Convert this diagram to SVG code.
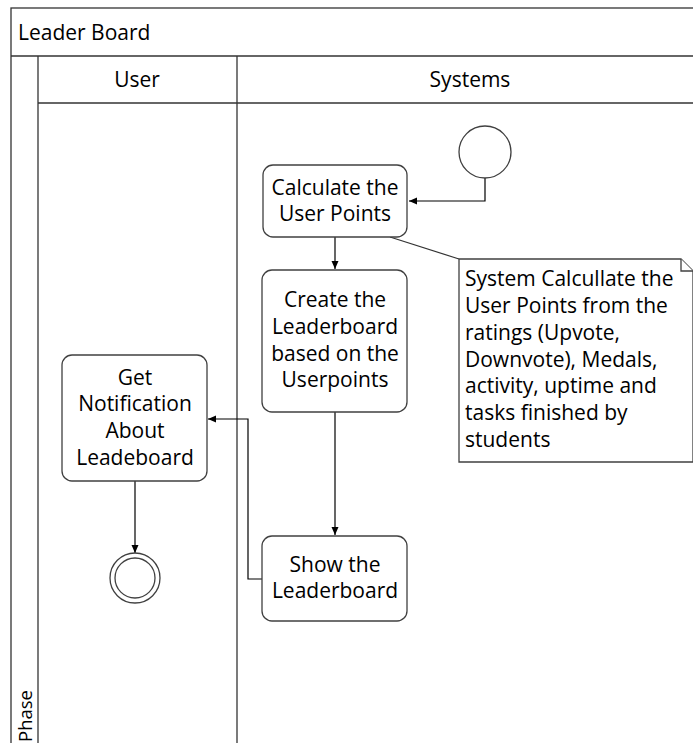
<svg xmlns="http://www.w3.org/2000/svg" width="693" height="743" viewBox="0 0 693 743">
<defs>
<marker id="arr" markerWidth="10" markerHeight="10" refX="9" refY="5" orient="auto" markerUnits="userSpaceOnUse">
<path d="M1,1.5 L9,5 L1,8.5 Z" fill="#000"/>
</marker>
<style>
.lane{fill:#fff;stroke:#333;stroke-width:1.3}
.box{fill:#fff;stroke:#404040;stroke-width:1.3}
.t{font-family:"Open Sans","Liberation Sans",sans-serif;font-size:21px;fill:#000}
.c{text-anchor:middle}
.con{fill:none;stroke:#000;stroke-width:1.2}
</style>
</defs>
<rect width="693" height="743" fill="#fff"/>
<g id="pool">
<rect class="lane" x="11" y="8" width="690" height="740"/>
<line class="lane" x1="11" y1="56" x2="693" y2="56"/>
<line class="lane" x1="38" y1="56" x2="38" y2="743"/>
<line class="lane" x1="237" y1="56" x2="237" y2="743"/>
<line class="lane" x1="38" y1="103" x2="693" y2="103"/>
<text class="t" x="18" y="40">Leader Board</text>
<text class="t c" x="137" y="87">User</text>
<text class="t c" x="470" y="87">Systems</text>
<text class="t" style="font-size:18.5px" transform="translate(32,742) rotate(-90)">Phase</text>
</g>
<g id="connectors">
<polyline class="con" points="485,178 485,201 409,201" marker-end="url(#arr)"/>
<line class="con" x1="335" y1="237" x2="335" y2="269" marker-end="url(#arr)"/>
<line class="con" x1="335" y1="412" x2="335" y2="535" marker-end="url(#arr)"/>
<polyline class="con" points="262,579 248,579 248,419 208,419" marker-end="url(#arr)"/>
<line class="con" x1="135" y1="481" x2="135" y2="553" marker-end="url(#arr)"/>
<line x1="390" y1="237" x2="459" y2="259" stroke="#333" stroke-width="1.2"/>
</g>
<g id="start">
<circle class="box" cx="485" cy="152" r="26"/>
</g>
<g id="calc">
<rect class="box" x="263" y="165" width="144" height="72" rx="10"/>
<text class="t c" x="335" y="195">Calculate the</text>
<text class="t c" x="335" y="221">User Points</text>
</g>
<g id="create">
<rect class="box" x="262" y="270" width="145" height="142" rx="10"/>
<text class="t c" x="335" y="307">Create the</text>
<text class="t c" x="335" y="334">Leaderboard</text>
<text class="t c" x="335" y="361">based on the</text>
<text class="t c" x="335" y="387">Userpoints</text>
</g>
<g id="show">
<rect class="box" x="262" y="536" width="145" height="85" rx="10"/>
<text class="t c" x="335" y="572">Show the</text>
<text class="t c" x="335" y="598">Leaderboard</text>
</g>
<g id="notify">
<rect class="box" x="62" y="355" width="145" height="126" rx="10"/>
<text class="t c" x="135" y="385">Get</text>
<text class="t c" x="135" y="411">Notification</text>
<text class="t c" x="135" y="438">About</text>
<text class="t c" x="135" y="465">Leadeboard</text>
</g>
<g id="end">
<circle class="box" cx="135" cy="578" r="25"/>
<circle class="box" cx="135" cy="578" r="20"/>
</g>
<g id="note">
<path class="box" d="M459,259 H681 L693,271 V462 H459 Z"/>
<path class="box" d="M681,259 V271 H693" fill="none"/>
<text class="t" x="465" y="286">System Calcullate the</text>
<text class="t" x="465" y="313">User Points from the</text>
<text class="t" x="465" y="340">ratings (Upvote,</text>
<text class="t" x="465" y="367">Downvote), Medals,</text>
<text class="t" x="465" y="393">activity, uptime and</text>
<text class="t" x="465" y="420">tasks finished by</text>
<text class="t" x="465" y="447">students</text>
</g>
</svg>
